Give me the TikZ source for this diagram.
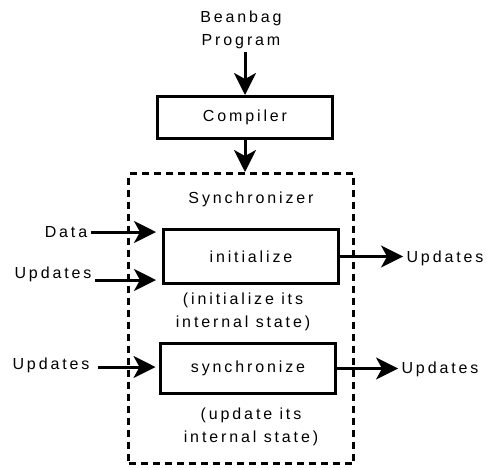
\documentclass[tikz,border=0pt]{standalone}
\usepackage{fontspec}
\setmainfont[LetterSpace=18]{Liberation Sans}
\usetikzlibrary{arrows.meta}

\tikzset{
  box/.style={draw, line width=3pt, minimum width=175pt},
  note/.style={align=center},
  flow/.style={-{Stealth[length=22pt,width=22pt,inset=6pt]}, line width=3pt},
  outflow/.style={flow, line width=2.2pt},
}

\begin{document}
\begin{tikzpicture}[x=1pt, y=-1pt, font=\fontsize{16}{23}\selectfont]
  \useasboundingbox (0,0) rectangle (486,467);

  \node[note] (prog) at (241,30) {Beanbag\\Program};
  \node[box, minimum height=42pt] (comp) at (245,117.5) {Compiler};

  \node[draw, dashed, dash pattern=on 7pt off 5pt, line width=3pt,
        minimum width=225pt, minimum height=290pt] (sync) at (241,318.5) {};
  \node (synclabel) at (251,199) {Synchronizer};

  \node[box, minimum height=54pt] (init) at (251,256.5) {initialize};
  \node[box, minimum height=50pt] (synch) at (248,368.5) {synchronize};

  \node[note] (initnote) at (243,312) {(initialize its\\internal state)};
  \node[note] (synchnote) at (251,427) {(update its\\internal state)};

  \node (data) at (66,232) {Data};
  \node (upd-1) at (53,274) {Updates};
  \node (upd-2) at (51,365) {Updates};
  \node (out-1) at (445,258) {Updates};
  \node (out-2) at (440,369) {Updates};

  \draw[flow] (comp.north |- prog.south) -- (comp.north);
  \draw[flow] (comp.south) -- (comp.south |- sync.north);

  \draw[flow, shorten >=6pt] (data.east) -- (data -| init.west);
  \draw[flow, shorten >=6pt] ([shift={(0,6)}]upd-1.east) -- ([shift={(0,6)}]upd-1.east -| init.west);
  \draw[flow, shorten <=5pt, shorten >=3.5pt] ([shift={(0,2)}]upd-2.east) -- ([shift={(0,2)}]upd-2.east -| synch.west);

  \foreach \from/\to in {init/out-1, synch/out-2} {
    \draw[outflow] (\from.east) -- (\from.east -| \to.west);
  }

\end{tikzpicture}
\end{document}
